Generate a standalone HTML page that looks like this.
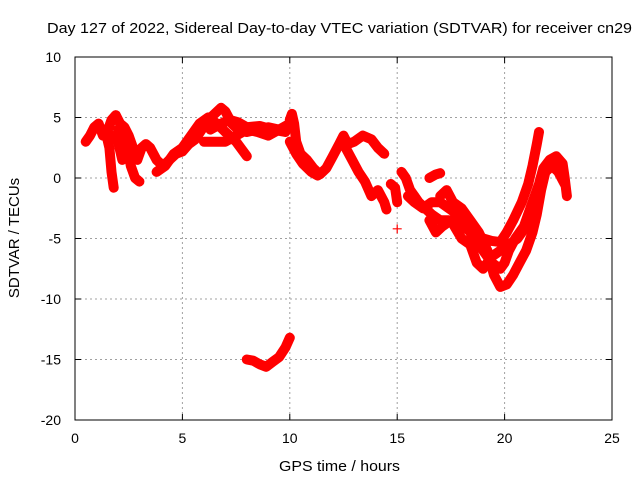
<!DOCTYPE html>
<html><head><meta charset="utf-8"><style>
body{margin:0;background:#fff;}
svg{display:block;font-family:"Liberation Sans",sans-serif;}
</style></head><body>
<svg id="chart" width="640" height="480">
<rect width="640" height="480" fill="#fff"/>
<text x="47" y="33" font-size="15" textLength="585" lengthAdjust="spacingAndGlyphs">Day 127 of 2022, Sidereal Day-to-day VTEC variation (SDTVAR) for receiver cn29</text>
<g id="grid"></g>
<g id="ticks"></g>
<g id="marks"></g>
<rect x="75" y="57" width="537" height="363" fill="none" stroke="#000" stroke-width="1"/>
<text x="279" y="471" font-size="15" textLength="121" lengthAdjust="spacingAndGlyphs">GPS time / hours</text>
<text transform="translate(19,238) rotate(-90)" font-size="15" text-anchor="middle">SDTVAR / TECUs</text>
</svg>
<script>
const xTicks=[0,5,10,15,20,25];
const yTicks=[10,5,0,-5,-10,-15,-20];
const t1=[[0.5,3],[0.7,3.5],[0.9,4.2],[1.1,4.5],[1.3,3.5],[1.5,3.8],[1.7,4.8],[1.9,5.2],[2.1,4.5],[2.3,4.2],[2.5,3.5],[2.7,2.5],[2.9,1.5],[3.1,2.5],[3.3,2.8],[3.5,2.5],[3.8,1.5],[4.1,1.0],[4.4,1.5],[4.7,2.0],[5.0,2.2],[5.3,2.8],[5.6,3.2],[5.9,4.0],[6.2,4.8],[6.5,5.3],[6.8,5.8],[7.0,5.5],[7.3,4.5],[7.6,4.0],[8.0,3.8],[8.5,4.0],[9.0,4.2],[9.5,4.0],[10.0,4.2]];
const t2=[[1.4,4.0],[1.6,2.5],[1.7,0.5],[1.8,-0.8]];
const t3=[[2.0,4.0],[2.2,2.5],[2.4,3.0],[2.6,1.0],[2.8,0],[3.0,-0.3]];
const t4=[[1.7,3.5],[2.0,3.0],[2.2,1.5]];
const t5=[[3.8,0.5],[4.2,1.0],[4.6,2.0],[5.0,2.5],[5.4,3.5],[5.8,4.5],[6.2,5.0],[6.6,4.5],[7.0,3.8],[7.5,3.0],[8.0,1.8]];
const t6=[[6.0,3],[6.5,3],[7.0,3],[7.5,3.5],[8.0,4],[8.5,3.8],[9.0,3.5],[9.5,4.0],[10.0,4.5]];
const t6b=[[6.3,4.0],[6.8,4.5],[7.2,4.8],[7.6,4.6],[8.0,4.2],[8.6,4.3],[9.2,4.0],[9.8,3.8]];
const t7=[[10.0,4.8],[10.1,5.3],[10.2,4.5],[10.3,3],[10.5,2],[10.8,1.5],[11.1,0.8],[11.4,0.3],[11.7,0.8],[12.0,1.8],[12.3,2.8],[12.5,3.5],[12.7,2.8],[13.0,3],[13.4,3.5],[13.8,3.2],[14.1,2.5],[14.4,2.0]];
const t8=[[10.0,3.0],[10.3,2],[10.6,1.2],[11,0.5],[11.3,0.2]];
const t9=[[12.6,2.5],[12.9,1.5],[13.2,0.5],[13.5,-0.3],[13.8,-1.5],[14.1,-1.0],[14.4,-2.0],[14.5,-2.6]];
const t10=[[14.7,-0.5],[14.9,-0.8],[15.0,-2.0]];
const t10b=[[15.0,-4.2]];
const t11=[[15.2,0.5],[15.4,0],[15.6,-1.0],[15.8,-1.5],[16.0,-2.0],[16.3,-2.5],[16.6,-3.0],[17.0,-3.5],[17.4,-3.5],[17.8,-4.0],[18.2,-4.2],[18.6,-4.5],[19.0,-5.0],[19.4,-5.2],[19.8,-5.3],[20.1,-4.5],[20.4,-3.5],[20.8,-2.0],[21.1,-0.5],[21.3,1.0],[21.5,2.8],[21.6,3.8]];
const t12=[[15.5,-1.5],[15.8,-2.0],[16.2,-2.5],[16.6,-2.0],[17.0,-2.0],[17.4,-2.5],[17.8,-3.0],[18.2,-4.0],[18.6,-5.0],[19.0,-6.0],[19.4,-7.0],[19.8,-7.5],[20.0,-7.0],[20.2,-6.0],[20.5,-5.0],[20.9,-4.0],[21.3,-2.0],[21.6,-0.5],[21.8,0.8],[22.1,1.5],[22.4,1.8],[22.7,1.2],[22.8,0],[22.9,-1.5]];
const t13=[[16.5,0],[16.8,0.3],[17.0,0.4]];
const t14=[[17.0,-1.5],[17.3,-1.0],[17.6,-2.0],[18.0,-2.5],[18.4,-3.5],[18.8,-4.5],[19.2,-6.0],[19.5,-8.0],[19.8,-9.0],[20.1,-8.8],[20.4,-8.0],[20.7,-7.0],[21.0,-6.0],[21.3,-4.5],[21.5,-3.0],[21.7,-1.0],[21.9,0.5],[22.2,1.0],[22.5,0.5],[22.8,-0.5]];
const t15=[[16.5,-3.5],[16.8,-4.5],[17.1,-4.0],[17.5,-3.5],[18,-5.0],[18.4,-5.5],[18.7,-7.0],[19,-7.5],[19.4,-6.5],[19.8,-6],[20.2,-5.5],[20.6,-5.0],[21,-4.0]];
const t16=[[8.0,-15],[8.3,-15.1],[8.6,-15.4],[8.9,-15.6],[9.2,-15.2],[9.5,-14.8],[9.8,-14],[10.0,-13.2]];
const tracks=[t1,t2,t3,t4,t5,t6,t6b,t7,t8,t9,t10,t10b,t11,t12,t13,t14,t15,t16];

const X0=75,X1=612,Y0=420,Y1=57;
function xs(v){return X0+(v-0)/(25-0)*(X1-X0);}
function ys(v){return Y0-(v-(-20))/(10-(-20))*(Y0-Y1);}
const NS="http://www.w3.org/2000/svg";
function mk(tag,attrs,parent){const e=document.createElementNS(NS,tag);for(const k in attrs)e.setAttribute(k,attrs[k]);parent.appendChild(e);return e;}
const grid=document.getElementById('grid'),ticks=document.getElementById('ticks'),marks=document.getElementById('marks');
xTicks.forEach(v=>{
  const x=xs(v);
  if(v>0&&v<25){const g=mk('line',{x1:x,x2:x,y1:Y1,y2:Y0,stroke:'#a0a0a0','stroke-dasharray':'2,3'},grid);
  
  }
  mk('line',{x1:x,x2:x,y1:Y0,y2:Y0-6,stroke:'#000'},ticks);
  mk('line',{x1:x,x2:x,y1:Y1,y2:Y1+6,stroke:'#000'},ticks);
  const t=mk('text',{x:x,y:443,'font-size':14,'text-anchor':'middle'},ticks);t.textContent=v;
  
  
});
yTicks.forEach(v=>{
  const y=ys(v);
  if(v<10&&v>-20){const g=mk('line',{x1:X0,x2:X1,y1:y,y2:y,stroke:'#a0a0a0','stroke-dasharray':'2,3'},grid);
  
  }
  mk('line',{x1:X0,x2:X0+6,y1:y,y2:y,stroke:'#000'},ticks);
  mk('line',{x1:X1,x2:X1-6,y1:y,y2:y,stroke:'#000'},ticks);
  const t=mk('text',{x:61,y:y+5,'font-size':14,'text-anchor':'end'},ticks);t.textContent=v;
  
  
});
tracks.forEach(tr=>{
  const pts=tr.map(p=>xs(p[0]).toFixed(1)+','+ys(p[1]).toFixed(1)).join(' ');
  const pl=mk('polyline',{points:pts,fill:'none',stroke:'#ff0000','stroke-width':tr.length>1?10:0,'stroke-linejoin':'round','stroke-linecap':'round'},marks);
  
  
  tr.forEach(p=>{
    const x=xs(p[0]),y=ys(p[1]);
    const m=mk('path',{d:`M${x-4.5},${y}H${x+4.5}M${x},${y-4.5}V${y+4.5}`,stroke:'#ff0000','stroke-width':1.2},marks);
    
    
  });
});
</script>
</body></html>
